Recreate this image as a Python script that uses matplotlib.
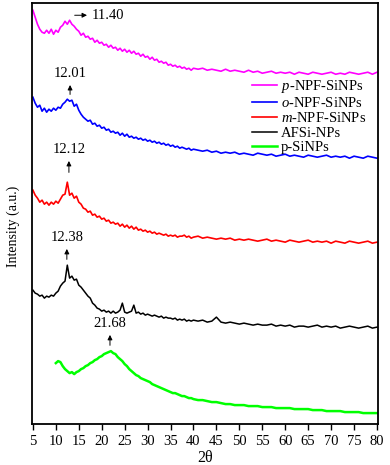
import numpy as np
import matplotlib
matplotlib.use('Agg')
import matplotlib.pyplot as plt

plt.rcParams['font.family'] = ['Liberation Serif', 'DejaVu Serif']
plt.rcParams['mathtext.fontset'] = 'custom'
plt.rcParams['mathtext.rm'] = 'Liberation Serif'
plt.rcParams['mathtext.it'] = 'Liberation Serif:italic'

# 2theta grid: fine steps up to 40, then 1 degree steps
two_theta = np.r_[np.arange(5, 40, 0.5), np.arange(40, 81, 1)]
two_theta_si = two_theta[two_theta >= 10]

# stacked intensities (a.u., offsets included)
p_npf = [414, 407, 400, 395, 392, 391, 394, 391, 395, 390,
         394, 392, 397, 399, 403, 400, 404, 400, 398, 395,
         393, 389, 391, 387, 388, 385, 386, 382, 384, 381,
         382, 379, 380, 377, 379, 376, 377, 374, 376, 373,
         375, 372, 374, 371, 373, 370, 371, 368, 370, 367,
         368, 365, 367, 364, 365, 362, 363, 361, 362, 359,
         360, 358, 359, 357, 358, 356, 357, 355, 356, 354,
         356, 355, 356, 354, 355, 354, 353, 355, 353, 354,
         353, 352, 354, 352, 353, 351, 352, 353, 351, 352,
         351, 352, 350, 352, 351, 350, 352, 351, 350, 351,
         352, 350, 351, 350, 352, 351, 350, 351, 352, 350, 352]
o_npf = [327, 321, 317, 319, 313, 316, 312, 315, 313, 316,
         314, 317, 316, 320, 322, 325, 323, 324, 318, 320,
         314, 310, 307, 305, 303, 304, 300, 301, 298, 299,
         296, 297, 294, 295, 292, 293, 291, 292, 289, 291,
         288, 290, 287, 288, 286, 287, 285, 286, 284, 285,
         283, 284, 282, 283, 281, 282, 280, 281, 279, 280,
         278, 279, 277, 278, 276, 277, 276, 275, 276, 274,
         275, 274, 273, 274, 272, 273, 271, 272, 271, 272,
         270, 271, 270, 269, 271, 270, 269, 270, 268, 269,
         270, 268, 269, 268, 267, 269, 268, 267, 268, 269,
         267, 268, 267, 268, 266, 268, 267, 266, 268, 267, 266]
m_npf = [234, 229, 226, 222, 224, 220, 222, 219, 222, 220,
         223, 221, 225, 229, 230, 242, 229, 231, 226, 228,
         222, 220, 216, 215, 212, 213, 209, 210, 207, 208,
         205, 206, 203, 204, 201, 202, 200, 201, 198, 200,
         197, 199, 196, 198, 195, 197, 194, 195, 193, 194,
         192, 193, 191, 192, 190, 191, 190, 189, 190, 188,
         189, 188, 189, 187, 188, 188, 189, 187, 188, 186,
         187, 188, 186, 187, 186, 185, 186, 185, 186, 184,
         185, 184, 185, 184, 183, 184, 185, 183, 184, 183,
         182, 184, 183, 182, 183, 184, 182, 183, 182, 183,
         181, 183, 182, 181, 183, 182, 181, 182, 183, 181, 182]
afsi = [134, 131, 130, 128, 129, 126, 128, 127, 129, 128,
        131, 133, 138, 141, 143, 159, 146, 148, 144, 145,
        139, 137, 134, 131, 128, 126, 121, 119, 116, 115,
        113, 114, 112, 113, 111, 113, 111, 112, 114, 121,
        112, 111, 112, 113, 119, 111, 112, 110, 111, 109,
        110, 109, 108, 109, 108, 107, 108, 106, 107, 106,
        106, 105, 106, 104, 105, 104, 105, 103, 104, 103,
        104, 103, 104, 102, 103, 107, 102, 101, 102, 101,
        100, 101, 100, 99, 100, 99, 99, 100, 98, 99,
        98, 99, 97, 98, 98, 97, 98, 99, 97, 98,
        97, 98, 96, 97, 98, 97, 96, 97, 98, 96, 97]
p_si = [61, 63, 62, 58, 55, 53, 51, 52, 50, 52,
        53, 55, 56, 58, 59, 61, 62, 64, 65, 67,
        68, 70, 71, 72, 73, 71, 70, 67, 65, 63,
        60, 58, 55, 53, 51, 49, 48, 46, 45, 44,
        43, 42, 40, 39, 38, 37, 36, 35, 34, 33,
        32, 31, 31, 30, 29, 28, 28, 27, 26, 26,
        25, 24, 24, 23, 22, 22, 21, 20, 20, 19,
        19, 19, 18, 18, 18, 17, 17, 17, 16, 16,
        16, 16, 15, 15, 15, 15, 14, 14, 14, 13,
        13, 13, 13, 12, 12, 12, 12, 11, 11, 11, 11]

fig = plt.figure(figsize=(3.9, 4.65), dpi=100)
ax = fig.add_axes([0.082, 0.088, 0.887, 0.905])

ax.plot(two_theta, p_npf, color='#ff00ff', lw=1.2, label='$p$-NPF-SiNPs')
ax.plot(two_theta, o_npf, color='#0000ff', lw=1.2, label='$o$-NPF-SiNPs')
ax.plot(two_theta, m_npf, color='#ff0000', lw=1.2, label='$m$-NPF-SiNPs')
ax.plot(two_theta, afsi, color='black', lw=1.1, label='AFSi-NPs')
ax.plot(two_theta_si, p_si, color='#00ff00', lw=1.8, label='p-SiNPs')

# peak labels
arrow = dict(arrowstyle='-|>', color='black', lw=0.7, mutation_scale=7)
ax.annotate('', xy=(17.4, 409), xytext=(13.5, 409), arrowprops=arrow)
ax.text(17.9, 409, '11.40', fontsize=10.5, va='center', ha='left')
for x, y0, y1, lab in [(13.1, 327, 342, '12.01'), (12.85, 249, 266, '12.12'),
                       (12.4, 162, 178, '12.38'), (21.8, 76, 92, '21.68')]:
    ax.annotate('', xy=(x, y1), xytext=(x, y0), arrowprops=arrow)
    ax.text(x, y1 + 2, lab, fontsize=10.5, ha='center', va='bottom')

ax.set_xlim(4.8, 80.2)
ax.set_ylim(0, 421)
ax.set_xticks(range(5, 81, 5))
ax.set_yticks([])
ax.tick_params(axis='x', direction='out', length=4, width=1, labelsize=10.5, pad=4)
for s in ax.spines.values():
    s.set_linewidth(1.3)
ax.set_xlabel('2θ', fontsize=11.5, labelpad=1)
ax.set_ylabel('Intensity (a.u.)', fontsize=10)
ax.yaxis.set_label_coords(-0.035, 0.47)

ax.legend(loc='upper left', bbox_to_anchor=(0.636, 0.823), frameon=False,
          fontsize=10.5, handlelength=1.7, handletextpad=0.3,
          labelspacing=0.09, borderpad=0, borderaxespad=0)

fig.savefig('out.png', dpi=100)
